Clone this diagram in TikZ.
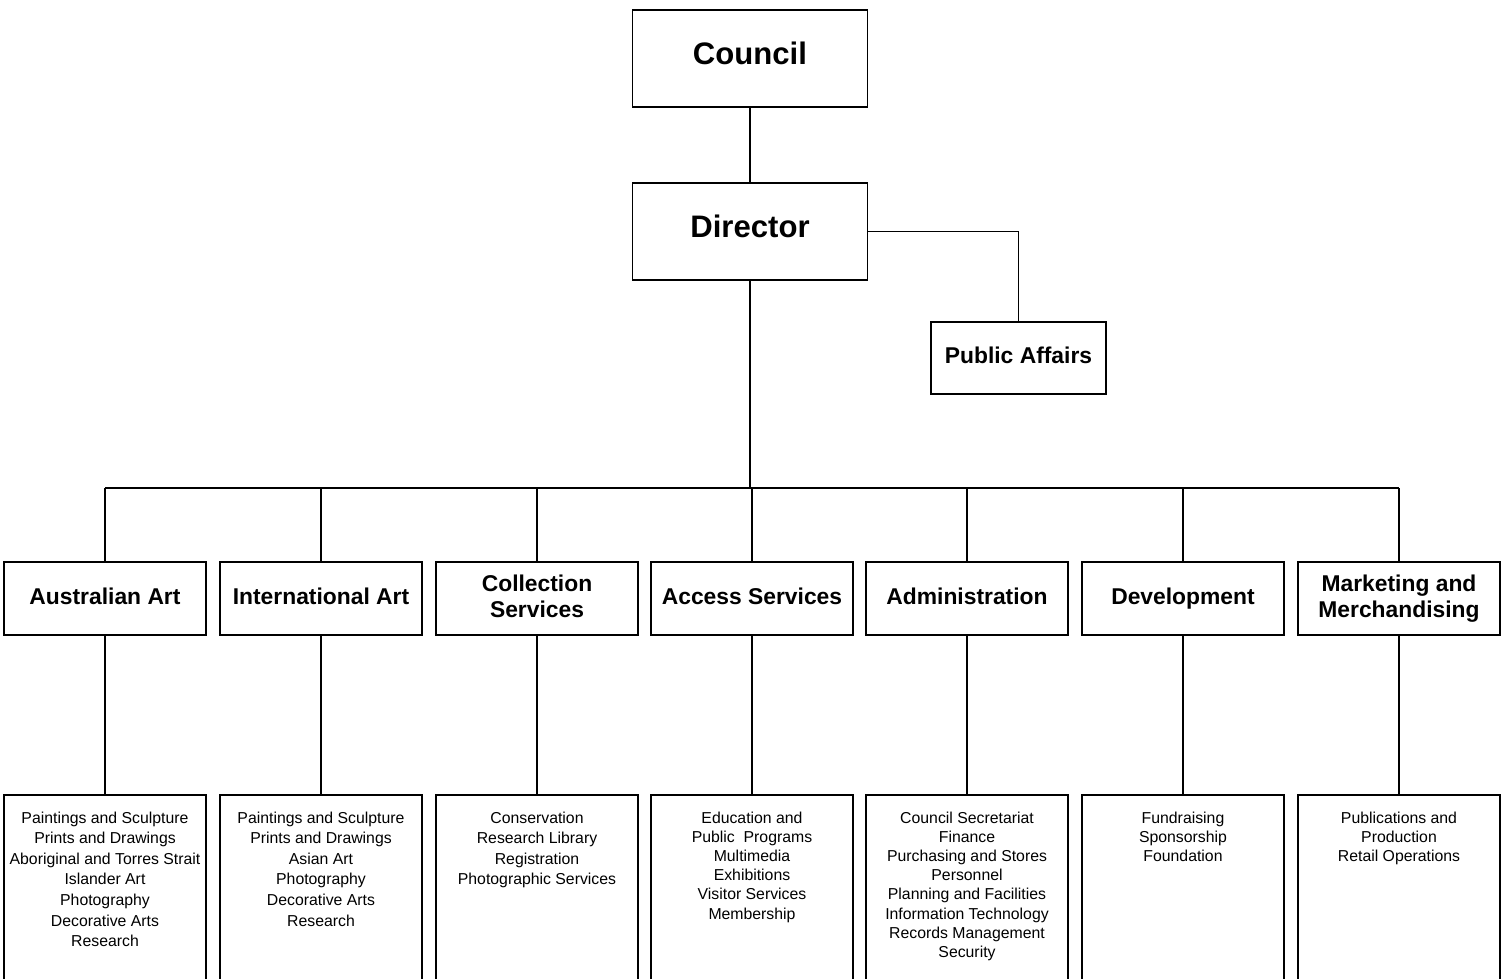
\documentclass[tikz,border=0pt]{standalone}
\usepackage{fontspec}
\setmainfont{Liberation Sans}
\usetikzlibrary{positioning}

\begin{document}
\begin{tikzpicture}[x=0.02cm,y=-0.02cm,line width=0.9pt,
  head/.style={draw,font=\bfseries\fontsize{17.7}{20}\selectfont,text depth=6.2pt,minimum width=4.7cm,minimum height=1.94cm},
  dept/.style={draw,align=center,font=\bfseries\fontsize{13}{15.3}\selectfont,text depth=2.6pt,minimum width=4.04cm,minimum height=1.46cm,inner sep=1pt},
  unitbox/.style={draw,anchor=north,minimum width=4.04cm,minimum height=4.3cm},
  list/.style={align=center,inner sep=0pt,font=\fontsize{9}{#1}\selectfont},
  list/.default=10.9]
\useasboundingbox (0,0) rectangle (1504,979);
\clip (0,0) rectangle (1504,979);
% top of the chart
\node[head] (council) at (750,58.5) {Council};
\node[head] (director) at (750,231.5) {Director};
\node[dept,minimum width=3.5cm,minimum height=1.44cm] (pa) at (1018.5,358) {Public Affairs};
\draw (council) -- (director);
\draw (director.east) -| (pa.north);
% divisions
\node[dept] (aus) at (105,598.5) {Australian Art};
\node[dept] (intl) at (321,598.5) {International Art};
\node[dept] (coll) at (537,598.5) {Collection\\Services};
\node[dept] (access) at (752,598.5) {Access Services};
\node[dept] (admin) at (967,598.5) {Administration};
\node[dept] (dev) at (1183,598.5) {Development};
\node[dept] (mkt) at (1399,598.5) {Marketing and\\Merchandising};
\coordinate (bus) at (750,488);
\draw (director.south) -- (director.south |- bus);
\draw (aus.north |- bus) -- (mkt.north |- bus);
\foreach \d in {aus,intl,coll,access,admin,dev,mkt}
  \draw (\d.north) -- (\d.north |- bus);
% sections under each division
\foreach \d in {aus,intl,coll,access,admin,dev,mkt}{
  \node[unitbox] (\d B) at (\d.south |- 0,794) {};
  \draw (\d.south) -- (\d B.north);
}
\node[list=11.7,below=0.34cm of ausB.north] (ausL) {Paintings and Sculpture\\Prints and Drawings\\Aboriginal and Torres Strait\\Islander Art\\Photography\\Decorative Arts\\Research};
\node[list=11.7,below=0.34cm of intlB.north] (intlL) {Paintings and Sculpture\\Prints and Drawings\\Asian Art\\Photography\\Decorative Arts\\Research};
\node[list=11.7,below=0.34cm of collB.north] (collL) {Conservation\\Research Library\\Registration\\Photographic Services};
\node[list,below=0.34cm of accessB.north] (accessL) {Education and\\Public\ \ Programs\\Multimedia\\Exhibitions\\Visitor Services\\Membership};
\node[list,below=0.34cm of adminB.north] (adminL) {Council Secretariat\\Finance\\Purchasing and Stores\\Personnel\\Planning and Facilities\\Information Technology\\Records Management\\Security};
\node[list,below=0.34cm of devB.north] (devL) {Fundraising\\Sponsorship\\Foundation};
\node[list,below=0.34cm of mktB.north] (mktL) {Publications and\\Production\\Retail Operations};
\end{tikzpicture}
\end{document}
